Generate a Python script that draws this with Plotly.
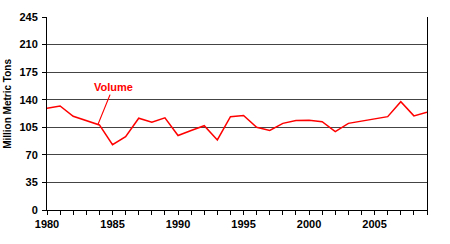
import plotly.graph_objects as go

years = list(range(1980, 2010))
volume = [129, 132, 119, 113.5, 108, 83, 93, 116.5, 111.5, 117, 94.5, 101, 107, 89,
          118.5, 120, 105, 101, 110, 113.5, 114, 112, 99.5, 110, 113, 115.5, 118.5,
          137.5, 119.5, 124]
y_ticks = [0, 35, 70, 105, 140, 175, 210, 245]
x_ticks = [1980, 1985, 1990, 1995, 2000, 2005]

font_family = "Liberation Sans, Arial, sans-serif"

fig = go.Figure()
fig.add_trace(go.Scatter(x=years, y=volume, mode="lines",
                         line=dict(color="#ff0000", width=1.5),
                         showlegend=False, hoverinfo="skip"))

fig.add_annotation(x=1983.9, y=109, xref="x", yref="y",
                   text="<b>Volume</b>", showarrow=True, arrowhead=0,
                   arrowcolor="#ff0000", arrowwidth=1.2,
                   ax=15, ay=-37, font=dict(color="#ff0000", size=11, family=font_family))

fig.add_annotation(x=0, y=0.55, xref="paper", yref="paper", xshift=-39,
                   text="<b>Million Metric Tons</b>", showarrow=False, textangle=-90,
                   font=dict(size=10, color="black", family=font_family),
                   xanchor="center", yanchor="middle")

fig.update_layout(
    width=450, height=244,
    margin=dict(l=47, r=23, t=17, b=34, autoexpand=False),
    paper_bgcolor="white", plot_bgcolor="white",
    font=dict(family=font_family, size=11, color="black"),
    xaxis=dict(range=[1980, 2009], tickvals=x_ticks,
               ticktext=[f"<b>{v}</b>" for v in x_ticks],
               showgrid=False, zeroline=False, automargin=False,
               showline=True, linecolor="black", linewidth=1,
               ticks="outside", ticklen=4, tickcolor="black",
               minor=dict(dtick=1, ticks="outside", ticklen=4, tickcolor="black", showgrid=False),
               tickfont=dict(size=11)),
    yaxis=dict(range=[0, 245], tickvals=y_ticks,
               ticktext=[f"<b>{v}</b>" for v in y_ticks],
               showgrid=True, gridcolor="#444444", gridwidth=1,
               zeroline=False, showline=True, linecolor="black", linewidth=1,
               mirror=True, ticks="outside", ticklen=4, tickcolor="black",
               ticklabelstandoff=2,
               automargin=False, tickfont=dict(size=11)),
)

fig.write_html("out.html")
